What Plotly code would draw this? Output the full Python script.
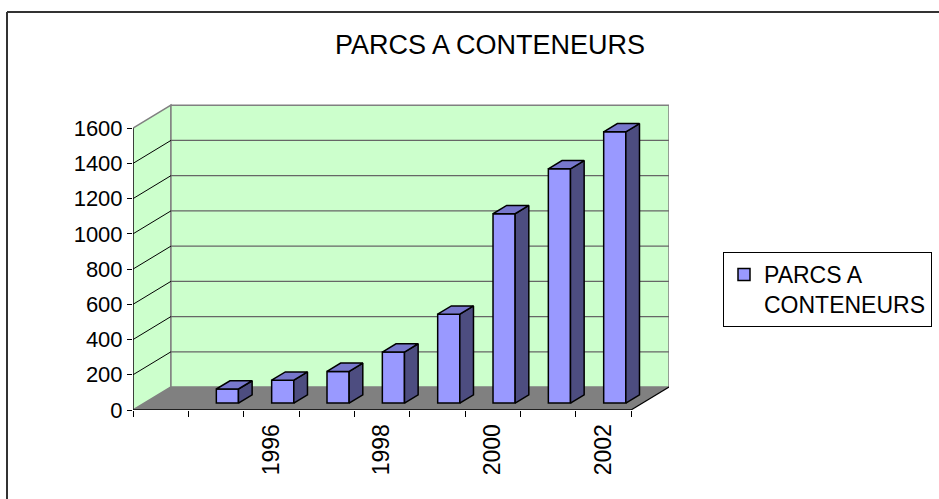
import plotly.graph_objects as go

# ---- data ----
years = [1995, 1996, 1997, 1998, 1999, 2000, 2001, 2002]
values = [80, 130, 180, 290, 505, 1075, 1330, 1540]
tick_years = ["1996", "1998", "2000", "2002"]
series_name = "PARCS A CONTENEURS"
y_ticks = [0, 200, 400, 600, 800, 1000, 1200, 1400, 1600]

# ---- pseudo-3D geometry (style constants) ----
N_CAT = 9            # category slots (first slot empty)
FIRST_YEAR = 1994
DX, DY = 0.686, 130.5   # full floor depth offset in data units
F0, F1 = 0.30, 0.66     # bar front / back depth fractions
BAR_W = 0.40
YMAX = 1600
FONT = "Liberation Sans, Arial, sans-serif"

FRONT = "#9999FF"
TOP = "#7777CC"
SIDE = "#4D4D80"
WALL = "#CCFFCC"
FLOOR = "#808080"

xs = [(y - FIRST_YEAR) + 0.5 + F0 * DX for y in years]
base = F0 * DY
bdx, bdy = (F1 - F0) * DX, (F1 - F0) * DY

fig = go.Figure()

# front faces as real bars
fig.add_trace(go.Bar(
    x=xs, y=values, base=[base] * len(values), width=BAR_W,
    marker=dict(color=FRONT, line=dict(color="black", width=1.5)),
    name="PARCS A<br>CONTENEURS", hoverinfo="skip",
))

# side and top faces computed from values
for x, v in zip(xs, values):
    xl, xr = x - BAR_W / 2, x + BAR_W / 2
    top = base + v
    fig.add_trace(go.Scatter(
        x=[xr, xr, xr + bdx, xr + bdx, xr],
        y=[base, top, top + bdy, base + bdy, base],
        mode="lines", fill="toself", fillcolor=SIDE,
        line=dict(color="black", width=1.5), showlegend=False, hoverinfo="skip"))
    fig.add_trace(go.Scatter(
        x=[xl, xr, xr + bdx, xl + bdx, xl],
        y=[top, top, top + bdy, top + bdy, top],
        mode="lines", fill="toself", fillcolor=TOP,
        line=dict(color="black", width=1.5), showlegend=False, hoverinfo="skip"))

shapes = []
# left wall
shapes.append(dict(type="path", xref="x", yref="y", layer="below",
                   path=f"M0,0 L0,{YMAX} L{DX},{YMAX+DY} L{DX},{DY} Z",
                   fillcolor=WALL, line=dict(color="#808080", width=1.5)))
# back wall
shapes.append(dict(type="rect", xref="x", yref="y", layer="below",
                   x0=DX, x1=N_CAT + DX, y0=DY, y1=YMAX + DY,
                   fillcolor=WALL, line=dict(color="#808080", width=1.5)))
# gridlines
for v in y_ticks[1:-1]:
    shapes.append(dict(type="line", xref="x", yref="y", layer="below",
                       x0=DX, x1=N_CAT + DX, y0=v + DY, y1=v + DY,
                       line=dict(color="#666666", width=1.2)))
    shapes.append(dict(type="line", xref="x", yref="y", layer="below",
                       x0=0, x1=DX, y0=v, y1=v + DY,
                       line=dict(color="black", width=1)))
# floor
shapes.append(dict(type="path", xref="x", yref="y", layer="below",
                   path=f"M0,0 L{N_CAT},0 L{N_CAT+DX},{DY} L{DX},{DY} Z",
                   fillcolor=FLOOR, line=dict(width=0)))
shapes.append(dict(type="line", xref="x", yref="y", layer="below",
                   x0=N_CAT, x1=N_CAT + DX, y0=0, y1=DY,
                   line=dict(color="black", width=1.2)))
shapes.append(dict(type="line", xref="x", yref="y", layer="below",
                   x0=0, x1=0, y0=0, y1=YMAX, line=dict(color="black", width=1.2)))
shapes.append(dict(type="line", xref="x", yref="y", layer="below",
                   x0=0, x1=N_CAT, y0=0, y1=0, line=dict(color="black", width=1.5)))

# outer chart border: only top and left edges lie inside the picture
L, R, T, B = 133, 270, 100, 89
W, H = 939, 499
pw, ph = W - L - R, H - T - B
bx0 = (7 - L) / pw
bx1 = (W - L) / pw
by_top = (H - B - 12) / ph
by_bot = (H - B - H) / ph
shapes.append(dict(type="line", xref="paper", yref="paper",
                   x0=bx0, x1=bx1, y0=by_top, y1=by_top,
                   line=dict(color="#333333", width=2)))
shapes.append(dict(type="line", xref="paper", yref="paper",
                   x0=bx0, x1=bx0, y0=by_top, y1=by_bot,
                   line=dict(color="#333333", width=2)))

fig.update_layout(
    width=W, height=H,
    margin=dict(l=L, r=R, t=T, b=B, autoexpand=False),
    paper_bgcolor="white", plot_bgcolor="white",
    font=dict(family=FONT, color="black", size=22),
    title=dict(text="PARCS A CONTENEURS", x=490 / W, xanchor="center",
               xref="container", y=1 - 45 / H, yanchor="middle", yref="container",
               font=dict(size=27, family=FONT, color="black")),
    xaxis=dict(range=[0, N_CAT + DX], showgrid=False, zeroline=False, showline=False,
               tickvals=[int(t) - FIRST_YEAR + 0.5 for t in tick_years],
               ticktext=tick_years, tickangle=-90, ticks="outside", ticklen=4,
               tickcolor="rgba(0,0,0,0)", tickfont=dict(size=23), automargin=False,
               minor=dict(tickmode="linear", tick0=0, dtick=1, ticks="outside",
                          ticklen=6, tickcolor="black", tickwidth=1.2, showgrid=False),
               fixedrange=True),
    yaxis=dict(range=[0, 1760], showgrid=False, zeroline=False, showline=False,
               tickvals=y_ticks, ticks="outside", ticklen=5, tickcolor="black",
               tickwidth=1.2, tickfont=dict(size=22), fixedrange=True, automargin=False),
    legend=dict(x=(723 - L) / pw, xanchor="left", y=(H - B - 252) / ph, yanchor="top",
                bordercolor="black", borderwidth=1, bgcolor="white",
                font=dict(size=23), valign="top"),
    shapes=shapes,
    showlegend=True,
)
fig.write_html("out.html", config={"displayModeBar": False},
               post_script="document.body.style.margin='0';"
                           "document.body.style.overflow='hidden';"
                           "document.documentElement.style.overflow='hidden';")
